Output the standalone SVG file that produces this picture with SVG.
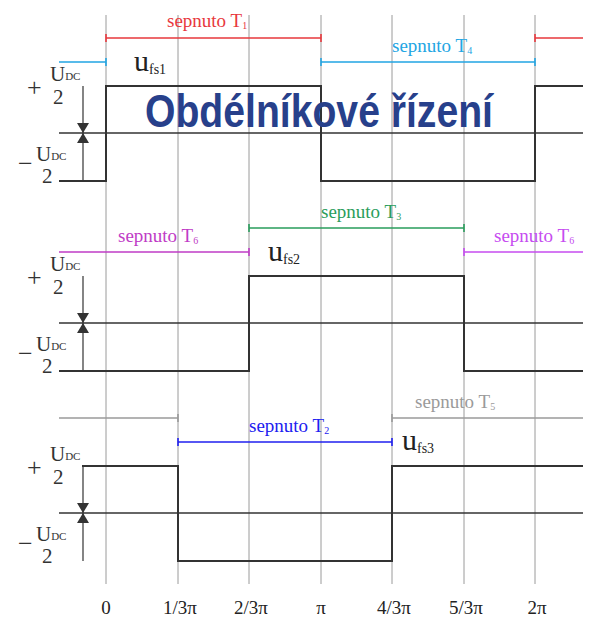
<svg xmlns="http://www.w3.org/2000/svg" width="590" height="620" viewBox="0 0 590 620">
<style>
.grid{stroke:#9a9a9a;stroke-width:1;fill:none}
.wave{stroke:#333;stroke-width:2;fill:none}
.base{stroke:#333;stroke-width:1.6;fill:none}
.arr{stroke:#333;stroke-width:1.2;fill:none}
.seg{stroke-width:1.6;fill:none}
.lbl{font-family:"Liberation Serif","Times New Roman",serif;font-size:21px;fill:#333}
.sign{font-family:"Liberation Serif","Times New Roman",serif;font-size:26px;fill:#333}
.sep{font-family:"Liberation Serif","Times New Roman",serif;font-size:19px}
.sub{font-size:10px}
.dc{font-size:11px}
.u{font-family:"Liberation Serif","Times New Roman",serif;font-size:30px;fill:#222}
.fs{font-size:14px}
.ax{font-family:"Liberation Serif","Times New Roman",serif;font-size:19px;fill:#222;text-anchor:middle}
.title{font-family:"Liberation Sans",Arial,sans-serif;font-weight:bold;font-size:46px;fill:#27408b}
</style>
<defs>
<marker id="ah" viewBox="0 0 10 12" refX="10" refY="6" markerWidth="10" markerHeight="12" markerUnits="userSpaceOnUse" orient="auto">
<path d="M0,0 L10,6 L0,12 Z" fill="#333"/>
</marker>
</defs>
<rect width="590" height="620" fill="#fff"/>
<g id="grid">
<path class="grid" d="M106,15V584M178,15V584M249,15V584M321,15V584M392,15V584M464,15V584M535,15V584"/>
</g>
<g id="axis-labels">
<text class="ax" x="106" y="614">0</text>
<text class="ax" x="180" y="614">1/3π</text>
<text class="ax" x="251" y="614">2/3π</text>
<text class="ax" x="321" y="614">π</text>
<text class="ax" x="394" y="614">4/3π</text>
<text class="ax" x="466" y="614">5/3π</text>
<text class="ax" x="537" y="614">2π</text>
</g>
<g id="phase1">
<path class="base" d="M59,133H583"/>
<path class="wave" d="M59,181H106V86H321V181H535V86H583"/>
<text class="u" x="134" y="71">u<tspan class="fs" dy="3">fs1</tspan></text>
<text class="sign" x="27" y="96">+</text>
<text class="lbl" x="50" y="81">U<tspan class="dc" dy="-1">DC</tspan></text>
<text class="lbl" x="53" y="104">2</text>
<text class="sign" x="18" y="172">−</text>
<text class="lbl" x="36" y="161">U<tspan class="dc" dy="-1">DC</tspan></text>
<text class="lbl" x="42" y="183">2</text>
</g>
<g id="phase2">
<path class="base" d="M59,323H583"/>
<path class="wave" d="M59,371H249V276H464V371H583"/>
<text class="u" x="268" y="261">u<tspan class="fs" dy="3">fs2</tspan></text>
<text class="sign" x="27" y="286">+</text>
<text class="lbl" x="50" y="271">U<tspan class="dc" dy="-1">DC</tspan></text>
<text class="lbl" x="53" y="294">2</text>
<text class="sign" x="18" y="362">−</text>
<text class="lbl" x="36" y="351">U<tspan class="dc" dy="-1">DC</tspan></text>
<text class="lbl" x="42" y="373">2</text>
</g>
<g id="phase3">
<path class="base" d="M59,513H583"/>
<path class="wave" d="M82,466H178V561H392V466H583"/>
<text class="u" x="402" y="450">u<tspan class="fs" dy="3">fs3</tspan></text>
<text class="sign" x="27" y="476">+</text>
<text class="lbl" x="50" y="461">U<tspan class="dc" dy="-1">DC</tspan></text>
<text class="lbl" x="53" y="484">2</text>
<text class="sign" x="18" y="552">−</text>
<text class="lbl" x="36" y="541">U<tspan class="dc" dy="-1">DC</tspan></text>
<text class="lbl" x="42" y="563">2</text>
</g>
<g id="switch-T1">
<path class="seg" stroke="#e8383d" d="M106,38H321M106,34V42M321,34V42M535,38H583M535,34V42"/>
<text class="sep" fill="#e8383d" x="167" y="27">sepnuto T<tspan class="sub" dy="2">1</tspan></text>
</g>
<g id="switch-T4">
<path class="seg" stroke="#22a5e3" d="M59,62H106M106,58V66M321,62H535M321,58V66M535,58V66"/>
<text class="sep" fill="#22a5e3" x="392" y="52">sepnuto T<tspan class="sub" dy="2">4</tspan></text>
</g>
<g id="switch-T3">
<path class="seg" stroke="#2a9d5c" d="M249,228H464M249,224V232M464,224V232"/>
<text class="sep" fill="#2a9d5c" x="321" y="218">sepnuto T<tspan class="sub" dy="2">3</tspan></text>
</g>
<g id="switch-T6">
<path class="seg" stroke="#c03cc6" d="M59,252H249M249,248V256"/>
<text class="sep" fill="#c03cc6" x="118" y="242">sepnuto T<tspan class="sub" dy="2">6</tspan></text>
<path class="seg" stroke="#c64cf0" d="M464,252H583M464,248V256"/>
<text class="sep" fill="#c64cf0" x="494" y="242">sepnuto T<tspan class="sub" dy="2">6</tspan></text>
</g>
<g id="switch-T5">
<path class="seg" stroke="#9a9a9a" d="M59,418H178M178,414V422M392,418H583M392,414V422"/>
<text class="sep" fill="#9a9a9a" x="415" y="408">sepnuto T<tspan class="sub" dy="2">5</tspan></text>
</g>
<g id="switch-T2">
<path class="seg" stroke="#2020f0" d="M178,442H392M178,438V446M392,438V446"/>
<text class="sep" fill="#2020f0" x="249" y="432">sepnuto T<tspan class="sub" dy="2">2</tspan></text>
</g>
<g id="connectors">
<path class="arr" d="M83,86V133" marker-end="url(#ah)"/>
<path class="arr" d="M83,181V133" marker-end="url(#ah)"/>
<path class="arr" d="M83,276V323" marker-end="url(#ah)"/>
<path class="arr" d="M83,371V323" marker-end="url(#ah)"/>
<path class="arr" d="M83,466V513" marker-end="url(#ah)"/>
<path class="arr" d="M83,561V513" marker-end="url(#ah)"/>
</g>
<g id="title">
<text class="title" x="145" y="127" textLength="348" lengthAdjust="spacingAndGlyphs">Obdélníkové řízení</text>
</g>
</svg>
